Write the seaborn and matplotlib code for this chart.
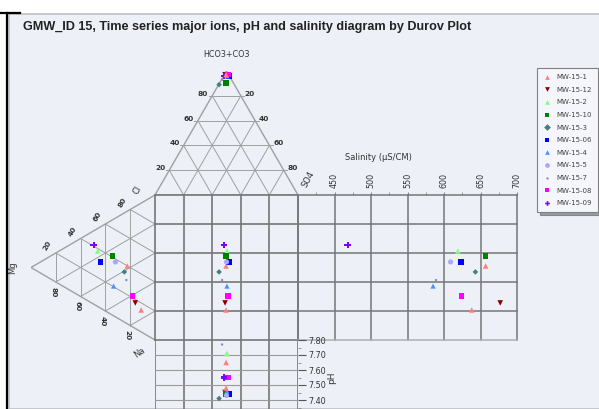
import numpy as np
import pandas as pd
import matplotlib
matplotlib.use('Agg')
from matplotlib import pyplot as plt
from matplotlib.lines import Line2D
from matplotlib.patches import Rectangle
import seaborn as sns

# ---- data ----
labels = ['MW-15-1', 'MW-15-12', 'MW-15-2', 'MW-15-10', 'MW-15-3', 'MW-15-06',
          'MW-15-4', 'MW-15-5', 'MW-15-7', 'MW-15-08', 'MW-15-09']
sample = labels + [labels[0]]

ca = [39.9, 17.6, 38.3, 40.8, 34.6, 31.9, 20.5, 37.9, 29.8, 21.2, 40.8, 15.1]
mg = [22.3, 15.9, 46.2, 34.2, 24.7, 43.8, 33.4, 31.9, 23.1, 18.3, 49.4, 11.2]
na = [37.8, 66.5, 15.5, 25.0, 40.7, 24.3, 46.1, 30.2, 47.1, 60.5, 9.8, 73.7]
hco3 = [97.0, 97.0, 97.0, 90.5, 89.0, 96.0, 96.0, 97.0, 93.0, 97.0, 96.0, 97.0]
so4 = [1.2, 0.5, 1.8, 4.45, 0.3, 3.7, 2.3, 1.5, 0.4, 2.5, 0.3, 1.2]
cl = [1.8, 2.5, 1.2, 5.05, 10.7, 0.3, 1.7, 1.5, 6.6, 0.5, 3.7, 1.8]
salinity = [657, 677, 619, 657, 643, 623, 585, 609, 589, 624, 468, 638]
ph = [7.65, 7.45, 7.71, 7.44, 7.41, 7.44, 7.46, 7.43, 7.77, 7.55, 7.55, 7.48]

colors = ['#ff7f7f', '#800000', '#80ff80', '#008000', '#408080', '#0000ff',
          '#4f8fff', '#a8a8ff', '#8090c0', '#ff00ff', '#8000ff']
markers = ['^', 'v', '^', 's', 'D', 's', '^', 'o', '.', 's', 'P']
msizes = [16, 16, 16, 16, 8, 16, 14, 14, 12, 14, 22]

title = 'GMW_ID 15, Time series major ions, pH and salinity diagram by Durov Plot'
sal_ticks = [450, 500, 550, 600, 650, 700]
ph_ticks = [7.40, 7.50, 7.60, 7.70, 7.80]
tri_ticks = [20, 40, 60, 80]

# ---- positions from the compositions ----
df = pd.DataFrame({'sample': sample, 'ca': ca, 'mg': mg, 'na': na,
                   'hco3': hco3, 'so4': so4, 'cl': cl, 'sal': salinity, 'ph': ph})
df['an_x'] = df.so4 + df.hco3 / 2
df['an_y'] = 0.866 * df.hco3
df['cat_x'] = -0.866 * df.mg
df['cat_y'] = df.na + df.mg / 2

pal = dict(zip(labels, colors))
mk = dict(zip(labels, markers))
sz = dict(zip(labels, msizes))

W, H = 599, 409
bg = '#eef0f7'
gc = '#767676'
tc = '#a0a0a0'
txt = '#333333'

fig = plt.figure(figsize=(W / 100, H / 100), dpi=100)
fig.patch.set_facecolor('white')
fig.add_artist(Rectangle((9 / W, 0), 1, 1 - 14 / H, transform=fig.transFigure,
                         facecolor=bg, edgecolor='#c0c0c8', lw=1.2, zorder=-5))
fig.add_artist(Line2D([7 / W, 7 / W], [0, 1 - 13 / H], color='black', lw=1.6, zorder=-4))
fig.add_artist(Line2D([0, 20 / W], [1 - 13 / H, 1 - 13 / H], color='black', lw=1.6, zorder=-4))
fig.text(23 / W, 1 - 27 / H, title, fontsize=9.1, fontweight='bold', color='#222222',
         va='center', ha='left', family='Liberation Sans')


def add_ax(x0, y0, x1, y1):
    a = fig.add_axes([x0 / W, 1 - y1 / H, (x1 - x0) / W, (y1 - y0) / H])
    a.set_facecolor('none')
    return a


def scat(a, x, y):
    sns.scatterplot(data=df, x=x, y=y, hue='sample', style='sample', size='sample',
                    hue_order=labels, style_order=labels, size_order=labels,
                    palette=pal, markers=mk, sizes=sz, linewidth=0, legend=False,
                    ax=a, clip_on=False, zorder=5)


# top triangle (anions)
ax_top = add_ax(155, 195 - 124, 298, 195)
ax_top.set_xlim(0, 100)
ax_top.set_ylim(0, 86.6)
ax_top.axis('off')
ax_top.plot([0, 50, 100, 0], [0, 86.6, 0, 0], color=tc, lw=1.0)
for k in tri_ticks:
    ax_top.plot([k / 2, 100 - k / 2], [0.866 * k] * 2, color=tc, lw=0.7)
    ax_top.plot([k, k + (100 - k) / 2], [0, 0.866 * (100 - k)], color=tc, lw=0.7)
    ax_top.plot([100 - k, (100 - k) / 2], [0, 0.866 * (100 - k)], color=tc, lw=0.7)
    ax_top.plot([k / 2, k / 2 - 2.5], [0.866 * k] * 2, color=tc, lw=0.7, clip_on=False)
    ax_top.plot([50 + k / 2, 52.5 + k / 2], [86.6 - 0.866 * k] * 2, color=tc, lw=0.7, clip_on=False)
    ax_top.annotate(str(k), (k / 2, 0.866 * k), xytext=(-6.5, 1.5), textcoords='offset points',
                    fontsize=5.3, fontweight='bold', color=txt, ha='center', va='center')
    ax_top.annotate(str(k), (50 + k / 2, 86.6 - 0.866 * k), xytext=(6.5, 1.5), textcoords='offset points',
                    fontsize=5.3, fontweight='bold', color=txt, ha='center', va='center')
ax_top.text(50, 98, 'HCO3+CO3', fontsize=5.8, color=txt, ha='center', va='center', clip_on=False)
ax_top.text(107, 11, 'SO4', fontsize=6, color=txt, ha='center', va='center', rotation=62, clip_on=False)
scat(ax_top, 'an_x', 'an_y')

# left triangle (cations)
ax_left = add_ax(155 - 124, 195, 155, 340)
ax_left.set_xlim(-86.6, 0)
ax_left.set_ylim(100, 0)
ax_left.axis('off')
ax_left.plot([0, -86.6, 0], [0, 50, 100], color=tc, lw=1.0)
for k in tri_ticks:
    ax_left.plot([-0.866 * k] * 2, [k / 2, 100 - k / 2], color=tc, lw=0.7)
    ax_left.plot([0, -0.866 * (100 - k)], [100 - k, (100 - k) / 2], color=tc, lw=0.7)
    ax_left.plot([0, -0.866 * (100 - k)], [k, k + (100 - k) / 2], color=tc, lw=0.7)
    ax_left.annotate(str(k), (-0.866 * (100 - k), (100 - k) / 2), xytext=(-6, 5),
                     textcoords='offset points', fontsize=5.3, fontweight='bold', color=txt,
                     ha='center', va='center', rotation=60)
    ax_left.annotate(str(k), (-0.866 * k, 100 - k / 2), xytext=(-2, -7),
                     textcoords='offset points', fontsize=5.3, fontweight='bold', color=txt,
                     ha='center', va='center', rotation=270)
ax_left.text(-12, -3, 'Cl', fontsize=6, color=txt, ha='center', va='center', rotation=60, clip_on=False)
ax_left.text(-99.5, 50, 'Mg', fontsize=6, color=txt, ha='center', va='center', rotation=90, clip_on=False)
ax_left.text(-11, 109, 'Na', fontsize=6, color=txt, ha='center', va='center', rotation=35, clip_on=False)
scat(ax_left, 'cat_x', 'cat_y')

# central square
ax_sq = add_ax(155, 195, 298, 340)
ax_sq.set_xlim(0, 100)
ax_sq.set_ylim(100, 0)
ax_sq.axis('off')
for k in range(0, 101, 20):
    ax_sq.plot([k, k], [0, 100], color=gc, lw=1.2, clip_on=False)
    ax_sq.plot([0, 100], [k, k], color=gc, lw=1.2, clip_on=False)
scat(ax_sq, 'an_x', 'cat_y')

# salinity panel
ax_sal = add_ax(298, 195, 517, 340)
ax_sal.set_xlim(400, 700)
ax_sal.set_ylim(100, 0)
for s in ax_sal.spines.values():
    s.set_visible(False)
for v in [400] + sal_ticks:
    ax_sal.plot([v, v], [0, 100], color=gc, lw=1.1, clip_on=False)
for k in range(0, 101, 20):
    ax_sal.plot([400, 700], [k, k], color=gc if k < 100 else '#b0b0b0', lw=1.1, clip_on=False)
ax_sal.xaxis.tick_top()
ax_sal.set_xticks(sal_ticks)
ax_sal.set_xticklabels([str(v) for v in sal_ticks], rotation=90, fontsize=5.8, color=txt)
ax_sal.set_xticks(np.arange(425, 700, 50), minor=True)
ax_sal.tick_params(axis='x', which='both', length=2, color='#888888', pad=3)
ax_sal.set_yticks([])
scat(ax_sal, 'sal', 'cat_y')
ax_sal.set_ylabel('')
ax_sal.set_xlabel('')
ax_sal.text(510, -26, 'Salinity (\u00b5S/CM)', fontsize=6, color=txt, ha='center', va='center', clip_on=False)

# pH panel
ax_ph = add_ax(155, 340, 298, 415)
ax_ph.set_xlim(0, 100)
ax_ph.set_ylim(7.30, 7.80)
for s in ax_ph.spines.values():
    s.set_visible(False)
for k in range(0, 101, 20):
    ax_ph.plot([k, k], [7.30, 7.80], color=gc, lw=1.2)
for v in ph_ticks[:-1]:
    ax_ph.plot([0, 100], [v, v], color='#9a9a9a', lw=0.8)
ax_ph.set_xticks([])
ax_ph.yaxis.tick_right()
ax_ph.yaxis.set_label_position('right')
ax_ph.set_yticks(ph_ticks)
ax_ph.set_yticklabels(['%.2f' % v for v in ph_ticks], fontsize=5.8, color=txt)
ax_ph.set_yticks(np.arange(7.35, 7.80, 0.1), minor=True)
ax_ph.tick_params(axis='y', which='major', length=6, color='#555555', pad=1.5)
ax_ph.tick_params(axis='y', which='minor', length=2.5, color='#888888')
scat(ax_ph, 'an_x', 'ph')
ax_ph.set_xlabel('')
ax_ph.set_ylabel('pH', fontsize=6.5, color=txt, labelpad=1)

# legend
handles = [Line2D([], [], marker=m, color=c, linestyle='', markersize=3.4, markeredgewidth=0)
           for m, c in zip(markers, colors)]
leg = fig.legend(handles, labels, loc='upper left', bbox_to_anchor=(537 / W, 1 - 68 / H),
                 fontsize=5, frameon=True, fancybox=False, shadow=True, framealpha=1,
                 handlelength=1.0, handletextpad=0.9, labelspacing=0.95, borderpad=0.9,
                 borderaxespad=0)
leg.get_frame().set_edgecolor('#808080')
leg.get_frame().set_facecolor('#f5f6fb')
leg.get_frame().set_linewidth(0.8)
for t in leg.get_texts():
    t.set_color('#444444')

fig.savefig('out.png', dpi=100)
